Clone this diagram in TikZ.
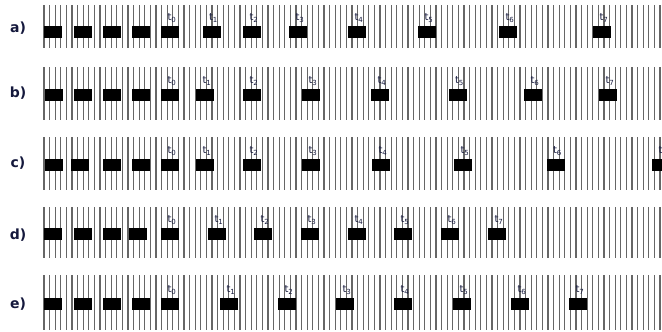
\documentclass[tikz,border=0pt]{standalone}
\usepackage{fontspec}
\setmainfont{DejaVu Sans}
\usepackage{xcolor}
\usetikzlibrary{positioning}

\definecolor{labink}{RGB}{20,24,60}

\tikzset{
  tick/.style={draw=black!60, line width=1.3pt},
  slot/.style={fill=black, minimum width=18pt, minimum height=12pt, inner sep=0pt},
  tlab/.style={font=\fontsize{10}{11}\selectfont, text=labink, inner sep=0pt},
  rowlab/.style={font=\bfseries\fontsize{14}{16}\selectfont, text=labink, inner sep=0pt}
}

\begin{document}
\begin{tikzpicture}[x=1pt,y=-1pt]
\useasboundingbox (0,0) rectangle (662,332);

% Zeilen: Name / Strich oben / Strich unten / Mitte / Lage der Slots
\foreach \r/\yt/\yb/\yc/\ly/\xs in {
  a/5/48/31.5/28/{53,82.5,112,141,170,211.5,252,298,357,427,508,602},
  b/67/120/94.5/93/{53.5,82.5,112,141,170,205,252,311,380,457.5,533,608},
  c/137/190/164.5/163/{53.5,80,112,141,170,205,252,311,381,463,555.5,661},
  d/207/258/234/235/{53,83,112,138,170,217,263,310,357,403,450,497},
  e/275/330/304/304/{53,83,112,141,170,229,287,345,403,462,520,578}}{

  % Raster
  \foreach \i in {0,...,110}
    \draw[tick] (44+5.6*\i,\yt) -- (44+5.6*\i,\yb);

  % Zeilenname
  \node[rowlab] (lab\r) at (18,\ly) {\r)};

  % Slots und Zeitpunkte
  \foreach \x [count=\k from 0] in \xs {
    \node[slot] (\r\k) at (\x,\yc) {};
    \ifnum\k>3
      \pgfmathtruncatemacro\j{\k-4}
      \node[tlab, above=3pt of \r\k, xshift=2pt] (t\r\k) {t\textsubscript{\j}};
    \fi
  }
}

\end{tikzpicture}
\end{document}
